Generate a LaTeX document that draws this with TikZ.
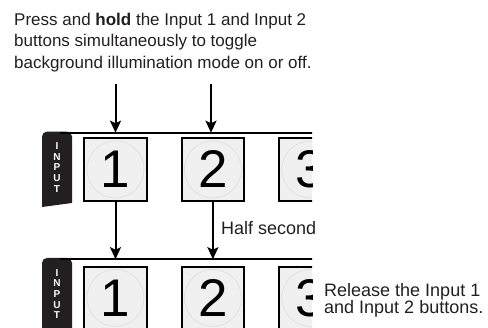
\documentclass[tikz,border=0pt]{standalone}
\usepackage{fontspec}
\setmainfont{Liberation Sans}
\usepackage{xcolor}
\usetikzlibrary{arrows.meta, positioning}

\definecolor{btngray}{RGB}{240,240,240}
\definecolor{ringgray}{RGB}{222,222,222}
\definecolor{tabblack}{RGB}{35,31,32}

\begin{document}
\begin{tikzpicture}[x=1pt,y=-1pt,>={Stealth[length=12pt,width=11pt,inset=2.5pt]},node distance=33pt,
    btn/.style={draw,line width=1.9pt,fill=btngray,minimum size=62.5pt,inner sep=0pt,
        font=\fontsize{53}{53}\selectfont,
        path picture={\draw[ringgray,line width=0.6pt] (path picture bounding box.center) circle (28.5pt);}},
    tab/.style={text=white,font=\bfseries\fontsize{10}{10.6}\selectfont,align=center,inner sep=0pt},
    rail/.style={line width=2pt},
    arr/.style={->,line width=2pt},
    note/.style={text=tabblack,align=left,inner sep=0pt}]
    \useasboundingbox (0,0) rectangle (488,328);

    \node[note,font=\fontsize{17}{21.5}\selectfont,anchor=north west] (press) at (14,12.6)
        {Press and \textbf{hold} the Input 1 and Input 2\\buttons simultaneously to toggle\\background illumination mode on or off.};

    \begin{scope}
    \clip (0,0) rectangle (312,328);
    % top row
    \fill[tabblack] (42,207) [rounded corners=5pt] -- (42,131.6) -- (72,131.6) [sharp corners] -- (72,203) -- cycle;
    \node[tab] (tab1) at (57,167.5) {I\\N\\P\\U\\T};
    \coordinate (rail1) at (60,132.7);
    \draw[rail] (rail1) -- (320,132.7);
    \node[btn] (a1) at (115.5,169.5) {1};
    \node[btn] (a2) [right=of a1] {2};
    \node[btn] (a3) [right=of a2] {3};

    % bottom row
    \fill[tabblack] (42,340) [rounded corners=5pt] -- (42,258) -- (72,258) [sharp corners] -- (72,340) -- cycle;
    \node[tab] (tab2) at (57,294) {I\\N\\P\\U\\T};
    \coordinate (rail2) at (60,259.2);
    \draw[rail] (rail2) -- (320,259.2);
    \node[btn] (b1) [below=64pt of a1] {1};
    \node[btn] (b2) [right=of b1] {2};
    \node[btn] (b3) [right=of b2] {3};
    \end{scope}

    \coordinate (in1) at (115.5,84);
    \coordinate (in2) at (211,84);
    \draw[arr] (in1) -- (in1 |- rail1);
    \draw[arr] (in2) -- (in2 |- rail1);
    \draw[arr] (a1) -- (a1 |- rail2);
    \draw[arr] (a2) -- (a2 |- rail2);

    \node[note,font=\fontsize{18}{18}\selectfont,anchor=base west] (half) at (221,234.3) {Half second};
    \node[note,font=\fontsize{18}{17}\selectfont,anchor=north west] (release) at (324,283)
        {Release the Input 1\\and Input 2 buttons.};
\end{tikzpicture}
\end{document}
